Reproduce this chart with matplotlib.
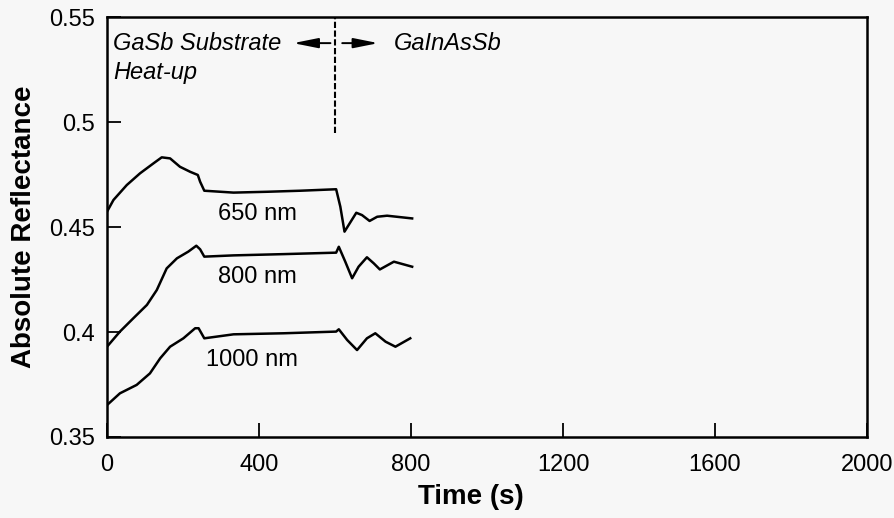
import matplotlib.pyplot as plt

plt.rcParams["font.family"] = ["Liberation Sans", "DejaVu Sans"]

# reflectance traces (time in s, absolute reflectance)
t_650 = [0, 17, 52, 87, 122, 144, 166, 192, 219, 239, 245, 256, 333, 421, 509,
         603, 614, 625, 636, 656, 671, 691, 711, 737, 803]
r_650 = [0.4573, 0.4629, 0.4700, 0.4756, 0.4803, 0.4832, 0.4827, 0.4787, 0.4763,
         0.4748, 0.4716, 0.4673, 0.4664, 0.4668, 0.4673, 0.4680, 0.4597, 0.4478,
         0.4510, 0.4568, 0.4557, 0.4529, 0.4549, 0.4554, 0.4541]

t_800 = [0, 34, 69, 105, 131, 157, 184, 214, 235, 245, 256, 333, 465, 603, 610,
         627, 645, 662, 684, 702, 718, 755, 803]
r_800 = [0.3930, 0.4002, 0.4065, 0.4129, 0.4200, 0.4303, 0.4351, 0.4383, 0.4411,
         0.4394, 0.4359, 0.4365, 0.4371, 0.4378, 0.4406, 0.4335, 0.4256, 0.4311,
         0.4356, 0.4327, 0.4298, 0.4335, 0.4311]

t_1000 = [0, 34, 78, 113, 140, 166, 201, 232, 241, 256, 333, 465, 603, 610, 632,
          658, 684, 706, 733, 759, 798]
r_1000 = [0.3652, 0.3708, 0.3748, 0.3803, 0.3875, 0.3930, 0.3970, 0.4018, 0.4018,
          0.3970, 0.3989, 0.3994, 0.4002, 0.4013, 0.3962, 0.3914, 0.3970, 0.3994,
          0.3954, 0.3930, 0.3970]

traces = [("650 nm", t_650, r_650, (395, 0.4560)),
          ("800 nm", t_800, r_800, (395, 0.4260)),
          ("1000 nm", t_1000, r_1000, (381, 0.3869))]

x_ticks = [0, 400, 800, 1200, 1600, 2000]
y_ticks = [0.35, 0.4, 0.45, 0.5, 0.55]
y_ticklabels = ["0.35", "0.4", "0.45", "0.5", "0.55"]

t_switch = 601
y_note = 0.5376

fig = plt.figure(figsize=(8.94, 5.18), dpi=100, facecolor="#f7f7f7")
ax = fig.add_axes([0.1197, 0.1564, 0.8501, 0.8106])
ax.set_facecolor("#f7f7f7")

for label, t, r, (tx, ty) in traces:
    ax.plot(t, r, color="black", lw=1.8, solid_joinstyle="round")
    ax.text(tx, ty, label, ha="center", va="center", fontsize=17)

# heat-up / growth boundary
ax.plot([t_switch, t_switch], [0.4948, 0.55], color="black", lw=1.5,
        linestyle=(0, (3, 1.2)))
arrow = dict(arrowstyle="-|>,head_length=1.5,head_width=0.3",
             color="black", lw=1.4, shrinkA=0, shrinkB=0)
ax.annotate("", xy=(490, y_note), xytext=(588, y_note), arrowprops=arrow)
ax.annotate("", xy=(714, y_note), xytext=(619, y_note), arrowprops=arrow)
ax.text(16, y_note, "GaSb Substrate", style="italic", fontsize=17,
        ha="left", va="center")
ax.text(16, 0.5238, "Heat-up", style="italic", fontsize=17,
        ha="left", va="center")
ax.text(754, y_note, "GaInAsSb", style="italic", fontsize=17,
        ha="left", va="center")

ax.set_xlim(0, 2000)
ax.set_ylim(0.35, 0.55)
ax.set_xticks(x_ticks)
ax.set_yticks(y_ticks)
ax.set_yticklabels(y_ticklabels)
ax.tick_params(direction="in", length=10, width=1.3, labelsize=17,
               top=False, right=False)
ax.tick_params(axis="x", pad=12)
ax.tick_params(axis="y", pad=9)
for s in ax.spines.values():
    s.set_linewidth(1.8)

ax.set_xlabel("Time (s)", fontsize=20, fontweight="bold")
ax.set_ylabel("Absolute Reflectance", fontsize=20, fontweight="bold")
ax.xaxis.set_label_coords(0.479, -0.112)
ax.yaxis.set_label_coords(-0.092, 0.5)

fig.savefig("out.png", dpi=100, facecolor=fig.get_facecolor())
